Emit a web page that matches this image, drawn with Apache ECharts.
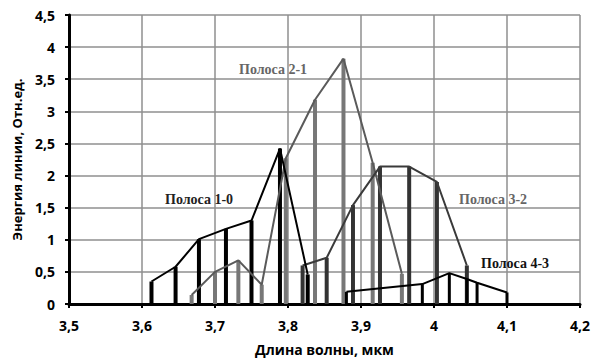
<!DOCTYPE html>
<html><head><meta charset="utf-8">
<script src="https://cdn.jsdelivr.net/npm/echarts@6/dist/echarts.min.js"></script>
<style>html,body{margin:0;padding:0;background:#fff}#c{width:592px;height:360px}</style>
</head><body><div id="c"></div>
<script>
// Band 1-0
const band10X = [3.613, 3.646, 3.678, 3.715, 3.750, 3.789, 3.827];
const band10Y = [0.35, 0.58, 1.01, 1.17, 1.30, 2.42, 0.46];
// Band 2-1
const band21X = [3.668, 3.700, 3.732, 3.764, 3.797, 3.837, 3.876, 3.916, 3.956];
const band21Y = [0.14, 0.50, 0.68, 0.30, 2.27, 3.18, 3.82, 2.20, 0.47];
// Band 3-2
const band32X = [3.820, 3.853, 3.889, 3.926, 3.966, 4.004, 4.045];
const band32Y = [0.60, 0.72, 1.54, 2.14, 2.14, 1.90, 0.60];
// Band 4-3
const band43X = [3.880, 3.984, 4.021, 4.045, 4.059, 4.100];
const band43Y = [0.19, 0.31, 0.48, 0.39, 0.33, 0.18];

const bandNames = ['Полоса 1-0', 'Полоса 2-1', 'Полоса 3-2', 'Полоса 4-3'];
const xTicks = {min: 3.5, max: 4.2, step: 0.1};
const yTicks = {min: 0, max: 4.5, step: 0.5};
const xTitle = 'Длина волны, мкм';
const yTitle = 'Энергия линии, Отн.ед.';

function pairs(xs, ys) { return xs.map((x, i) => [x, ys[i]]); }
function comma(v) { return String(+v.toFixed(1)).replace('.', ','); }

function stems(name, data, color, width) {
  return {
    name: name, type: 'custom', data: data, z: 3,
    renderItem: function (params, api) {
      const p0 = api.coord([api.value(0), 0]);
      const p1 = api.coord([api.value(0), api.value(1)]);
      return {type: 'line', shape: {x1: p0[0], y1: p0[1], x2: p1[0], y2: p1[1]},
        style: {stroke: color, lineWidth: width}};
    }
  };
}
function env(name, data, color, width) {
  return {name: name, type: 'line', data: data, symbol: 'none', z: 4,
    lineStyle: {color: color, width: width}, animation: false};
}

const chart = echarts.init(document.getElementById('c'), null, {renderer: 'svg'});
const axisFont = {fontFamily: 'Open Sans', fontWeight: 'bold', fontSize: 14, color: '#000'};
const serif = 'bold 14px "Liberation Serif"';
chart.setOption({
  animation: false,
  grid: {left: 69, right: 12, top: 15, bottom: 56, containLabel: false, outerBoundsMode: 'none'},
  xAxis: {
    type: 'value', min: xTicks.min, max: xTicks.max, interval: xTicks.step,
    name: xTitle, nameLocation: 'middle', nameGap: 38,
    nameTextStyle: {fontFamily: 'Open Sans', fontWeight: 'bold', fontSize: 14, color: '#000'},
    axisLine: {show: true, onZero: false, lineStyle: {color: '#000', width: 3}},
    axisTick: {show: true, length: 4, lineStyle: {color: '#000', width: 2}},
    axisLabel: Object.assign({formatter: comma, margin: 14}, axisFont),
    splitLine: {show: true, lineStyle: {color: '#8f8f8f', width: 1.5}}
  },
  yAxis: {
    type: 'value', min: yTicks.min, max: yTicks.max, interval: yTicks.step,
    name: yTitle, nameLocation: 'middle', nameGap: 46, nameRotate: 90,
    nameTextStyle: {fontFamily: 'Open Sans', fontWeight: 'bold', fontSize: 13, color: '#000'},
    axisLine: {show: true, lineStyle: {color: '#000', width: 3}},
    axisTick: {show: true, length: 4, lineStyle: {color: '#000', width: 2}},
    axisLabel: Object.assign({formatter: comma, margin: 14}, axisFont),
    splitLine: {show: true, lineStyle: {color: '#8f8f8f', width: 1.5}}
  },
  series: [
    stems(bandNames[1], pairs(band21X, band21Y), '#777', 4),
    env(bandNames[1], pairs(band21X, band21Y), '#5a5a5a', 2),
    stems(bandNames[2], pairs(band32X, band32Y), '#333', 4),
    env(bandNames[2], pairs(band32X, band32Y), '#3a3a3a', 2),
    stems(bandNames[3], pairs(band43X, band43Y), '#000', 3),
    env(bandNames[3], pairs(band43X, band43Y), '#000', 2),
    stems(bandNames[0], pairs(band10X, band10Y), '#000', 4),
    env(bandNames[0], pairs(band10X, band10Y), '#000', 2)
  ],
  graphic: [
    {type: 'text', left: 239, top: 62, z: 10, style: {text: bandNames[1], font: serif, fill: '#666'}},
    {type: 'text', left: 165, top: 192, z: 10, style: {text: bandNames[0], font: serif, fill: '#222'}},
    {type: 'text', left: 459, top: 192, z: 10, style: {text: bandNames[2], font: serif, fill: '#666'}},
    {type: 'text', left: 481, top: 256, z: 10, style: {text: bandNames[3], font: serif, fill: '#111'}}
  ]
});
</script></body></html>
